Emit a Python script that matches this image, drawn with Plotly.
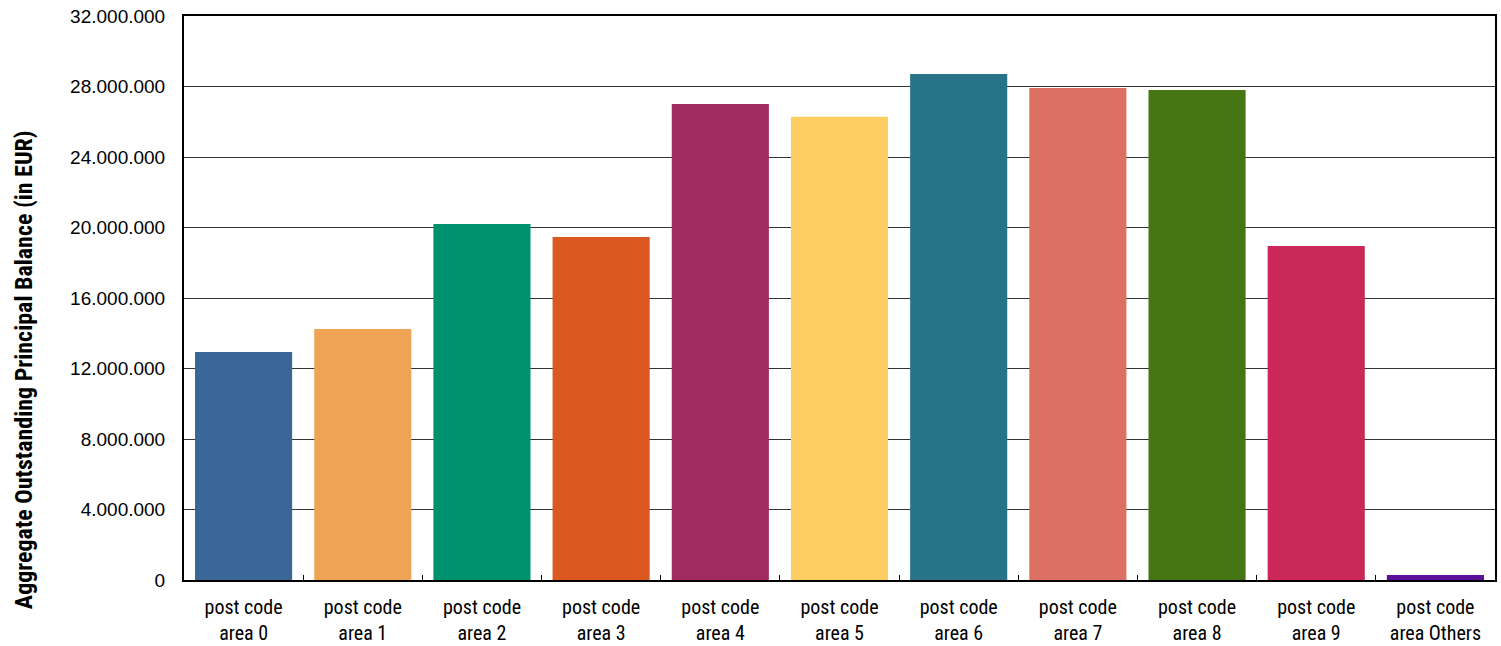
import plotly.graph_objects as go

categories = ["post code<br>area 0", "post code<br>area 1", "post code<br>area 2", "post code<br>area 3",
              "post code<br>area 4", "post code<br>area 5", "post code<br>area 6", "post code<br>area 7",
              "post code<br>area 8", "post code<br>area 9", "post code<br>area Others"]
values = [12940000, 14240000, 20200000, 19460000, 27000000, 26290000, 28710000, 27910000,
          27800000, 18950000, 280000]
colors = ["#3A6698", "#EFA354", "#00916E", "#DB5820", "#A02B60", "#FDCD62", "#277489",
          "#DB7063", "#467614", "#C92858", "#5C0F99"]
y_ticks = [0, 4000000, 8000000, 12000000, 16000000, 20000000, 24000000, 28000000, 32000000]
y_tick_labels = ["0", "4.000.000", "8.000.000", "12.000.000", "16.000.000", "20.000.000",
                 "24.000.000", "28.000.000", "32.000.000"]
y_title = "Aggregate Outstanding Principal Balance (in EUR)"

narrow = "Liberation Sans Narrow, Roboto Condensed, Arial Narrow, sans-serif"

fig = go.Figure(go.Bar(x=categories, y=values, marker=dict(color=colors, line=dict(width=0))))

fig.update_layout(
    width=1501, height=646,
    margin=dict(l=184, r=6, t=16, b=66),
    plot_bgcolor="white", paper_bgcolor="white",
    bargap=0.185,
    showlegend=False,
    font=dict(family="Liberation Sans, Arial, sans-serif", color="black"),
    annotations=[dict(
        text="<b>" + y_title + "</b>", textangle=-90,
        xref="paper", yref="paper", x=0, y=0.372, xanchor="center", yanchor="middle",
        xshift=-160, showarrow=False,
        font=dict(family=narrow, size=24, color="black"),
    )],
)
fig.update_xaxes(
    automargin=False,
    showgrid=False,
    showline=True, linecolor="black", linewidth=2, mirror=True,
    ticks="inside", tickson="boundaries", ticklen=5, tickcolor="black", tickwidth=1,
    ticklabelstandoff=8,
    tickfont=dict(family=narrow, size=20, color="black"),
)
fig.update_yaxes(
    automargin=False,
    range=[0, 32000000],
    tickvals=y_ticks, ticktext=y_tick_labels,
    showgrid=True, gridcolor="#333333", gridwidth=1,
    showline=True, linecolor="black", linewidth=2, mirror=True,
    ticks="", ticklabelstandoff=13, ticklabeloverflow="allow",
    tickfont=dict(family="Liberation Sans, Arial, sans-serif", size=19, color="black"),
    zeroline=False,
)

fig.write_html("out.html", config={"displayModeBar": False},
               post_script="document.body.style.margin='0';")
